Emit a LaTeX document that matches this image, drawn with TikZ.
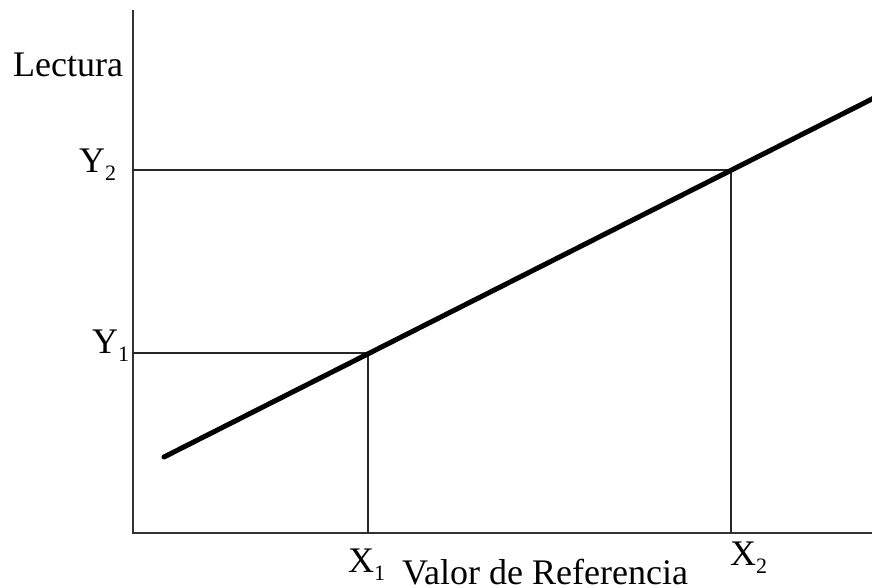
\documentclass[tikz,border=0pt]{standalone}
\usepackage{fontspec}
\setmainfont{Liberation Serif}
\newcommand{\lblsub}[1]{\raisebox{-8pt}{\fontsize{22}{24}\selectfont #1}}
\begin{document}
\begin{tikzpicture}[x=1pt,y=-1pt,
  axisline/.style={line width=1.8pt,draw=black!80},
  guide/.style={line width=1.3pt,draw=black!85},
  dataline/.style={line width=5pt,line cap=round},
  lbl/.style={inner sep=0pt,anchor=base west,font=\fontsize{36}{40}\selectfont}]
\useasboundingbox (0,0) rectangle (872,588);
% axes
\coordinate (top) at (133,10);
\coordinate (orig) at (133,533);
\coordinate (right) at (872,533);
\draw[axisline] (top) -- (orig) -- (right);
% data line
\coordinate (s) at (164,457);
\coordinate (e) at (874,98);
\coordinate (p1) at (368,353);
\coordinate (p2) at (731,170);
\coordinate (y1) at (133,353);
\coordinate (y2) at (133,170);
\coordinate (x1) at (368,533);
\coordinate (x2) at (731,533);
\draw[guide] (y1) -- (p1) -- (x1);
\draw[guide] (y2) -- (p2) -- (x2);
\draw[dataline] (s) -- (e);
% labels
\node[lbl] (lect) at (13,77) {Lectura};
\node[lbl] (ly2) at (79,173) {Y\lblsub{2}};
\node[lbl] (ly1) at (92,353) {Y\lblsub{1}};
\node[lbl] (lx1) at (348,572) {X\lblsub{1}};
\node[lbl] (lx2) at (730,565) {X\lblsub{2}};
\node[lbl] (lval) at (402,584) {Valor de Referencia};
\end{tikzpicture}
\end{document}
